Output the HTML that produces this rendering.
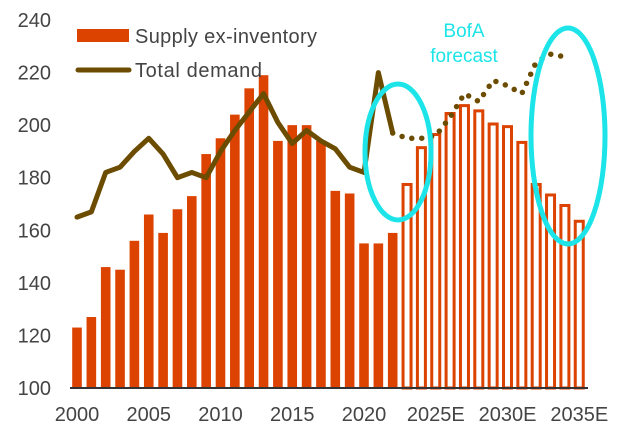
<!DOCTYPE html>
<html><head><meta charset="utf-8"><style>
html,body{margin:0;padding:0;background:#fff;}
svg{display:block;font-family:"Liberation Sans",sans-serif;}
</style></head><body>
<svg id="chart" width="640" height="443" viewBox="0 0 640 443">
<g id="yaxis"></g>
<g id="bars"></g>
<g id="lines"></g>
<line x1="70" y1="388" x2="588" y2="388" stroke="#333" stroke-width="2"/>
<g id="xaxis"></g>
<ellipse cx="398" cy="152" rx="33" ry="68" fill="none" stroke="#1de4e8" stroke-width="5"/>
<ellipse cx="568" cy="136" rx="37" ry="108" fill="none" stroke="#1de4e8" stroke-width="5"/>
<text x="464" y="37" font-size="19" fill="#1de4e8" text-anchor="middle">BofA</text>
<text x="464" y="62" font-size="19" fill="#1de4e8" text-anchor="middle">forecast</text>
<g>
<rect x="77" y="29" width="52" height="13" fill="#dc4200"/>
<text x="135" y="43" font-size="20" fill="#444" textLength="182">Supply ex-inventory</text>
<line x1="78" y1="70" x2="129" y2="70" stroke="#6b4c00" stroke-width="5" stroke-linecap="round"/>
<text x="135" y="77" font-size="20" fill="#444" textLength="127">Total demand</text>
</g>
</svg>
<script>
const years = [];
for (let y = 2000; y <= 2035; y++) years.push(y);
const supply = [123,127,146,145,156,166,159,168,173,189,195,204,214,219,194,200,200,194,175,174,155,155,159,178,192,197,205,208,206,201,200,194,178,174,170,164];
const firstForecastIndex = 23;
const demandActual = [165,167,182,184,190,195,189,180,182,180,190,198,205,212,201,193,198,194,191,184,182,220,197];
const demandForecast = [197,195,195,196,203,212,209,217,215,212,224,227,226];
const yTicks = [100,120,140,160,180,200,220,240];
const xLabels = ["2000","2005","2010","2015","2020","2025E","2030E","2035E"];
const xLabelIdx = [0,5,10,15,20,25,30,35];

const NS = "http://www.w3.org/2000/svg";
const xs = i => 77 + i * 14.35;
const ys = v => 388 - (v - 100) * (368 / 140);
function mk(tag, attrs, parent) {
  const el = document.createElementNS(NS, tag);
  for (const k in attrs) el.setAttribute(k, attrs[k]);
  parent.appendChild(el);
  return el;
}
const yaxis = document.getElementById('yaxis');
yTicks.forEach(t => {
  const el = mk('text', {x: 51, y: ys(t) + 7, 'font-size': 20, fill: '#444', 'text-anchor': 'end'}, yaxis);
  
  
  el.textContent = t;
});
const xaxis = document.getElementById('xaxis');
xLabels.forEach((l, k) => {
  const el = mk('text', {x: xs(xLabelIdx[k]), y: 421, 'font-size': 20, fill: '#444', 'text-anchor': 'middle'}, xaxis);
  
  
  el.textContent = l;
});
const bars = document.getElementById('bars');
supply.forEach((v, i) => {
  let el;
  if (i < firstForecastIndex) {
    el = mk('rect', {x: xs(i) - 4.8, y: ys(v), width: 9.6, height: 388 - ys(v), fill: '#dc4200'}, bars);
  } else {
    el = mk('rect', {x: xs(i) - 4, y: ys(v) + 1.5, width: 8, height: 388 - ys(v) - 1.5, fill: 'none', stroke: '#dc4200', 'stroke-width': 3}, bars);
  }
  
  
});
const lines = document.getElementById('lines');
const p1 = demandActual.map((v, i) => xs(i) + ',' + ys(v)).join(' ');
const l1 = mk('polyline', {points: p1, fill: 'none', stroke: '#6b4c00', 'stroke-width': 5, 'stroke-linejoin': 'round', 'stroke-linecap': 'round'}, lines);


const off = demandActual.length - 1;
const p2 = demandForecast.map((v, i) => xs(i + off) + ',' + ys(v)).join(' ');
const l2 = mk('polyline', {points: p2, fill: 'none', stroke: '#6b4c00', 'stroke-width': 5.5, 'stroke-dasharray': '0 10', 'stroke-linecap': 'round'}, lines);


</script>
</body></html>
